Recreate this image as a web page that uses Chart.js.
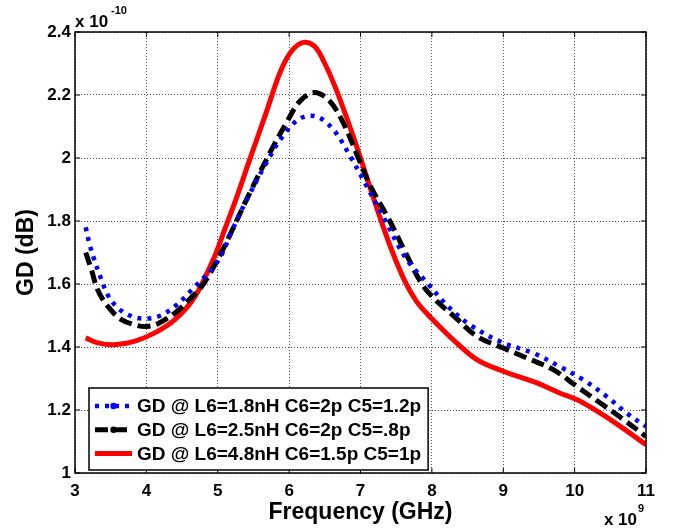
<!DOCTYPE html>
<html>
<head>
<meta charset="utf-8">
<script src="https://cdn.jsdelivr.net/npm/chart.js@4"></script>
<style>
	html, body { margin: 0; padding: 0; background: #fff; }
	#wrap { width: 682px; height: 532px; }
</style>
</head>
<body>
<div id="wrap"><canvas id="myChart" width="682" height="532"></canvas></div>
<script>
// frequency in GHz (axis is x 10^9), group delay in units of 1e-10
const blueFreq = [3.15, 3.20, 3.27, 3.37, 3.46, 3.60, 3.80, 4.00, 4.20, 4.40, 4.63, 5.00, 5.20, 5.40, 5.68, 5.91, 6.15, 6.38, 6.62, 6.87, 7.04, 7.35, 7.64, 7.95, 8.20, 8.53, 9.00, 9.42, 9.79, 10.12, 10.45, 10.73, 11.00];
const blueGD   = [1.78, 1.73, 1.677, 1.614, 1.565, 1.524, 1.497, 1.49, 1.50, 1.529, 1.58, 1.672, 1.77, 1.865, 1.984, 2.069, 2.125, 2.132, 2.09, 2.0, 1.93, 1.80, 1.68, 1.60, 1.535, 1.471, 1.413, 1.381, 1.338, 1.296, 1.243, 1.19, 1.148];

const blackFreq = [3.15, 3.23, 3.32, 3.46, 3.65, 3.88, 4.00, 4.16, 4.40, 4.60, 4.80, 5.05, 5.20, 5.45, 5.73, 5.96, 6.15, 6.36, 6.57, 6.76, 6.97, 7.13, 7.41, 7.63, 7.86, 8.07, 8.30, 8.63, 9.00, 9.33, 9.70, 10.03, 10.36, 10.69, 11.00];
const blackGD   = [1.70, 1.645, 1.58, 1.529, 1.487, 1.468, 1.465, 1.474, 1.508, 1.55, 1.60, 1.70, 1.77, 1.89, 2.016, 2.111, 2.18, 2.208, 2.18, 2.111, 2.0, 1.915, 1.80, 1.70, 1.60, 1.545, 1.50, 1.434, 1.397, 1.365, 1.328, 1.275, 1.222, 1.169, 1.116];

const redFreq = [3.15, 3.32, 3.55, 3.83, 4.11, 4.40, 4.68, 4.96, 5.10, 5.26, 5.44, 5.68, 5.87, 6.03, 6.20, 6.36, 6.50, 6.66, 6.85, 7.00, 7.15, 7.29, 7.45, 7.62, 7.80, 8.00, 8.30, 8.63, 9.00, 9.47, 9.79, 10.03, 10.36, 10.64, 11.00];
const redGD   = [1.429, 1.413, 1.407, 1.418, 1.444, 1.487, 1.56, 1.69, 1.775, 1.872, 1.99, 2.145, 2.27, 2.338, 2.367, 2.354, 2.30, 2.217, 2.10, 2.0, 1.895, 1.80, 1.70, 1.61, 1.54, 1.49, 1.423, 1.36, 1.323, 1.286, 1.254, 1.233, 1.19, 1.148, 1.09];

const seriesLabels = ["GD @ L6=1.8nH C6=2p C5=1.2p", "GD @ L6=2.5nH C6=2p C5=.8p", "GD @ L6=4.8nH C6=1.5p C5=1p"];

const X_MIN = 3, X_MAX = 11, Y_MIN = 1, Y_MAX = 2.4;

function pts(xs, ys) {
	return xs.map((x, i) => ({ x: x, y: ys[i] }));
}

const BOLD = "'Liberation Sans', Arial, Helvetica, sans-serif";

// box, inward ticks, exponent labels and the boxed legend (matlab style)
const matlabFrame = {
	id: "matlabFrame",
	afterDraw(chart) {
		const ctx = chart.ctx;
		const a = chart.chartArea;
		const xs = chart.scales.x, ys = chart.scales.y;
		ctx.save();

		ctx.strokeStyle = "#000";
		ctx.lineWidth = 1.5;
		ctx.strokeRect(a.left, a.top, a.right - a.left, a.bottom - a.top);

		ctx.lineWidth = 1;
		ctx.beginPath();
		xs.ticks.forEach(t => {
			let px = xs.getPixelForValue(t.value);
			ctx.moveTo(px, a.bottom); ctx.lineTo(px, a.bottom - 5);
			ctx.moveTo(px, a.top); ctx.lineTo(px, a.top + 5);
		});
		ys.ticks.forEach(t => {
			let py = ys.getPixelForValue(t.value);
			ctx.moveTo(a.left, py); ctx.lineTo(a.left + 5, py);
			ctx.moveTo(a.right, py); ctx.lineTo(a.right - 5, py);
		});
		ctx.stroke();

		// exponents
		ctx.fillStyle = "#000";
		ctx.textBaseline = "alphabetic";
		ctx.textAlign = "left";
		ctx.font = "bold 17px " + BOLD;
		ctx.fillText("x 10", a.left, a.top - 5);
		let w = ctx.measureText("x 10").width;
		ctx.font = "bold 11px " + BOLD;
		ctx.fillText("-10", a.left + w + 3, a.top - 18);

		ctx.font = "bold 17px " + BOLD;
		let w2 = ctx.measureText("x 10").width;
		ctx.fillText("x 10", a.right - 9 - w2, 525);
		ctx.font = "bold 11px " + BOLD;
		ctx.fillText("9", a.right - 8, 512);

		// legend
		ctx.font = "bold 19px " + BOLD;
		let maxW = 0;
		seriesLabels.forEach(s => { maxW = Math.max(maxW, ctx.measureText(s).width); });
		let bx = a.left + 14, bw = 48 + maxW + 7, bh = 82;
		let by = a.bottom - 3 - bh;
		ctx.fillStyle = "#fff";
		ctx.fillRect(bx, by, bw, bh);
		ctx.strokeStyle = "#000";
		ctx.lineWidth = 1.5;
		ctx.strokeRect(bx, by, bw, bh);

		chart.data.datasets.forEach((ds, i) => {
			let ry = by + 18 + i * 23.7;
			ctx.save();
			ctx.strokeStyle = ds.borderColor;
			ctx.lineWidth = ds.borderWidth;
			ctx.setLineDash(ds.borderDash || []);
			ctx.beginPath();
			ctx.moveTo(bx + 6, ry);
			ctx.lineTo(bx + 43, ry);
			ctx.stroke();
			ctx.setLineDash([]);
			if (ds.legendDot) {
				ctx.fillStyle = ds.borderColor;
				ctx.beginPath();
				ctx.arc(bx + 24.5, ry, 3.2, 0, Math.PI * 2);
				ctx.fill();
			}
			ctx.restore();
			ctx.fillStyle = "#000";
			ctx.textBaseline = "middle";
			ctx.fillText(ds.label, bx + 48, ry + 1);
		});

		ctx.restore();
	}
};

function createChart() {
	let ctx = document.getElementById("myChart");

	let data = {
		datasets: [{
			label: seriesLabels[0],
			data: pts(blueFreq, blueGD),
			borderColor: "#0000ff",
			borderWidth: 4.5,
			borderDash: [4, 6],
			borderCapStyle: "butt",
			legendDot: true
		}, {
			label: seriesLabels[1],
			data: pts(blackFreq, blackGD),
			borderColor: "#000000",
			borderWidth: 5,
			borderDash: [13, 6],
			borderCapStyle: "butt",
			legendDot: true
		}, {
			label: seriesLabels[2],
			data: pts(redFreq, redGD),
			borderColor: "#ff0000",
			borderWidth: 5
		}]
	};
	data.datasets.forEach(d => {
		d.fill = false;
		d.pointRadius = 0;
		d.tension = 0.35;
	});

	let options = {
		responsive: false,
		animation: false,
		devicePixelRatio: 1,
		layout: { padding: { top: 32, right: 36, left: 0, bottom: 0 } },
		plugins: {
			legend: { display: false },
			tooltip: { enabled: false }
		},
		scales: {
			x: {
				type: "linear",
				min: X_MIN,
				max: X_MAX,
				afterFit: s => { s.height = 59; },
				ticks: {
					stepSize: 1,
					color: "#000",
					padding: 8,
					maxRotation: 0,
					font: { family: BOLD, size: 17, weight: "bold" }
				},
				grid: { color: "#555", lineWidth: 1, drawTicks: false },
				border: { display: false, dash: [1, 2] },
				title: {
					display: true,
					text: "Frequency (GHz)",
					color: "#000",
					font: { family: BOLD, size: 23, weight: "bold" },
					padding: { top: 0, bottom: 6 }
				}
			},
			y: {
				type: "linear",
				min: Y_MIN,
				max: Y_MAX,
				afterFit: s => { s.width = 75; },
				ticks: {
					stepSize: 0.2,
					color: "#000",
					padding: 4,
					font: { family: BOLD, size: 17, weight: "bold" },
					callback: v => String(Number(v.toFixed(1)))
				},
				grid: { color: "#555", lineWidth: 1, drawTicks: false },
				border: { display: false, dash: [1, 2] },
				title: {
					display: true,
					text: "GD (dB)",
					color: "#000",
					font: { family: BOLD, size: 23, weight: "bold" },
					padding: { top: 13, bottom: 0 }
				}
			}
		}
	};

	return new Chart(ctx, {
		type: "line",
		data: data,
		options: options,
		plugins: [matlabFrame]
	});
}

window.chart = createChart();
</script>
</body>
</html>
